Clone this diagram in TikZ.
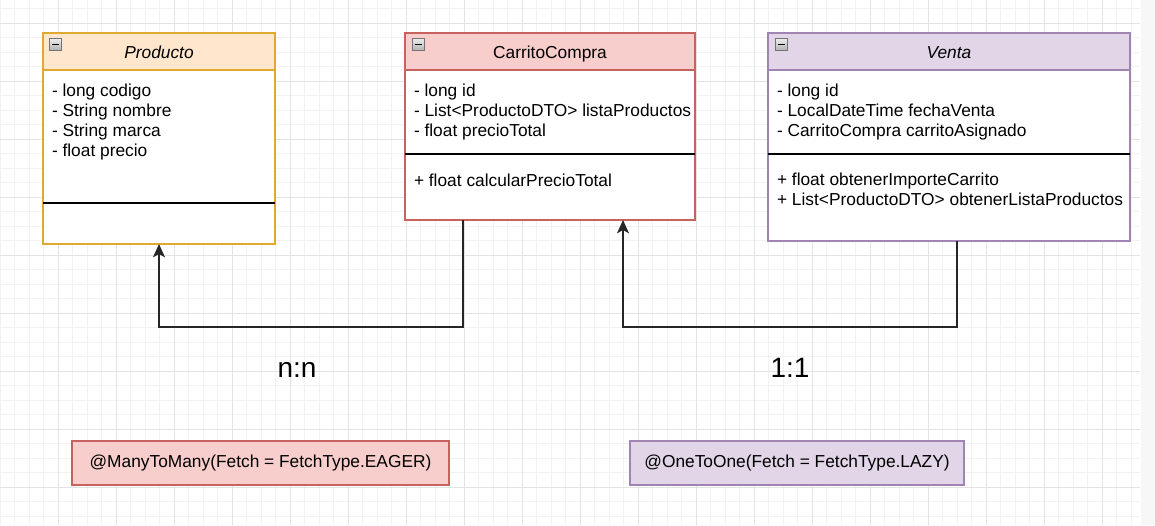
\documentclass[tikz,border=0pt]{standalone}
\usepackage{fontspec}
\setmainfont{Liberation Sans}
\usetikzlibrary{arrows.meta}

\definecolor{prodfill}{HTML}{FFE6CC}
\definecolor{prodline}{HTML}{E0A930}
\definecolor{cartfill}{HTML}{F8CECC}
\definecolor{cartline}{HTML}{C8625E}
\definecolor{ventfill}{HTML}{E1D5E7}
\definecolor{ventline}{HTML}{A084B1}
\definecolor{minorgrid}{HTML}{F2F2F2}
\definecolor{majorgrid}{HTML}{E3E3E3}

\begin{document}
\begin{tikzpicture}
  [x=0.75pt,y=-0.75pt,
   every node/.style={inner sep=0pt,outer sep=0pt},
   classbox/.style={draw,line width=1.1pt,fill=white,anchor=north west},
   headbox/.style={draw,line width=1.1pt,anchor=north west,minimum height=37*0.75pt},
   title/.style={anchor=base,font=\fontsize{13}{15}\selectfont},
   members/.style={anchor=base west,align=left,font=\fontsize{13}{15}\selectfont},
   divider/.style={line width=1.1pt,black},
   assoc/.style={line width=1.1pt,black!85,-{Stealth[length=10pt,width=9pt,inset=2.5pt]}},
   mult/.style={anchor=base,font=\fontsize{21}{24}\selectfont},
   note/.style={draw,line width=1.1pt,minimum height=44*0.75pt,font=\fontsize{13}{15}\selectfont}]

  % canvas and grid
  \fill[white] (0,0) rectangle (1155,525);
  \useasboundingbox (0,0) rectangle (1155,525);
  \foreach \x in {0,14.5,...,1140} \draw[minorgrid,line width=0.75pt] (\x,0) -- (\x,525);
  \foreach \y in {8.5,23,...,525} \draw[minorgrid,line width=0.75pt] (0,\y) -- (1140,\y);
  \foreach \x in {58,116,...,1140} \draw[majorgrid,line width=0.75pt] (\x,0) -- (\x,525);
  \foreach \y in {23,81,...,525} \draw[majorgrid,line width=0.75pt] (0,\y) -- (1140,\y);
  \fill[black!3] (1141,0) rectangle (1155,525);

  % classes (members: base = last line)
  \node[classbox,draw=prodline,minimum width=232*0.75pt,minimum height=211*0.75pt] (prod) at (43,33) {};
  \node[headbox,draw=prodline,fill=prodfill,minimum width=232*0.75pt] (prodhead) at (43,33) {};
  \node[title] (prodtitle) at (159,58) {\itshape Producto};
  \node[members] (prodattr) at (52,156) {- long codigo\\- String nombre\\- String marca\\- float precio};
  \draw[divider] (43,203) -- (275,203);

  \node[classbox,draw=cartline,minimum width=290*0.75pt,minimum height=187*0.75pt] (cart) at (405,33) {};
  \node[headbox,draw=cartline,fill=cartfill,minimum width=290*0.75pt] (carthead) at (405,33) {};
  \node[title] (carttitle) at (550,58) {CarritoCompra};
  \begin{scope}
    \clip (405,71) rectangle (691,154);
    \node[members] (cartattr) at (414,136) {- long id\\- List<ProductoDTO> listaProductos\\- float precioTotal};
  \end{scope}
  \draw[divider] (405,154) -- (695,154);
  \node[members] (cartmeth) at (414,186) {+ float calcularPrecioTotal};

  \node[classbox,draw=ventline,minimum width=362*0.75pt,minimum height=208*0.75pt] (vent) at (768,33) {};
  \node[headbox,draw=ventline,fill=ventfill,minimum width=362*0.75pt] (venthead) at (768,33) {};
  \node[title] (venttitle) at (949,58) {\itshape Venta};
  \node[members] (ventattr) at (777,136) {- long id\\- LocalDateTime fechaVenta\\- CarritoCompra carritoAsignado};
  \draw[divider] (768,154) -- (1130,154);
  \node[members] (ventmeth) at (777,205) {+ float obtenerImporteCarrito\\+ List<ProductoDTO> obtenerListaProductos};

  % collapse icons
  \foreach \ix in {49.5,412,775} {
    \shade[top color=gray!15,bottom color=gray!60,draw=gray!90!black,line width=0.6pt]
      (\ix,38.5) rectangle ++(12,12);
    \draw[line width=1pt] (\ix+2.5,44.5) -- ++(7,0);
  }

  % associations
  \draw[assoc] ([xshift=58*0.75pt]cart.south west) -- ++(0,107) -| (prod.south);
  \draw[assoc] ([xshift=189*0.75pt]vent.south west) -- ++(0,86) -| ([xshift=218*0.75pt]cart.south west);

  \node[mult] (nn) at (297,377) {n:n};
  \node[mult] (oo) at (790,377) {1:1};

  % annotations
  \node[note,draw=cartline,fill=cartfill,minimum width=377*0.75pt] (manymany) at (260.5,463) {@ManyToMany(Fetch = FetchType.EAGER)};
  \node[note,draw=ventline,fill=ventfill,minimum width=334*0.75pt] (oneone) at (797,463) {@OneToOne(Fetch = FetchType.LAZY)};

\end{tikzpicture}
\end{document}
